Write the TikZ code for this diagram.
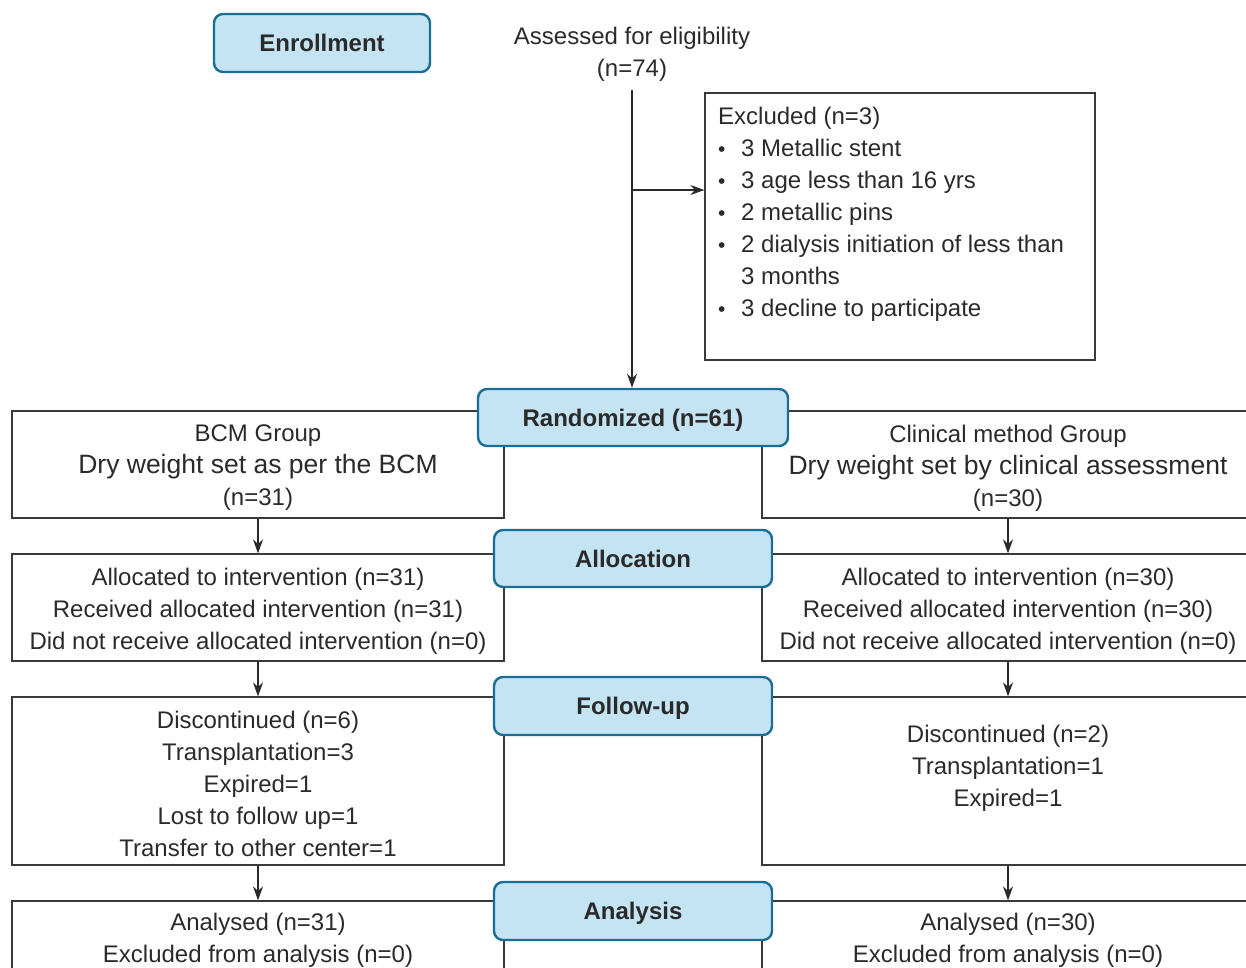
\documentclass[tikz,border=0pt]{standalone}
\usepackage{fontspec}
\setmainfont{Liberation Sans}
\usetikzlibrary{arrows.meta}
\definecolor{txt}{HTML}{2A2A2A}
\definecolor{bfill}{HTML}{C4E3F3}
\definecolor{bdraw}{HTML}{1A6E96}
\definecolor{lin}{HTML}{3A3A3A}
\begin{document}
\begin{tikzpicture}[x=1pt,y=-1pt,
 stage/.style={draw=bdraw, fill=bfill, line width=2.4pt, rounded corners=9pt,
   font=\bfseries\fontsize{24}{28}\selectfont, text=txt, inner sep=0pt,
   text height=17pt, text depth=0pt},
 box/.style={draw=lin, line width=1.2pt, inner sep=0pt},
 txtn/.style={text=txt, font=\fontsize{24}{32}\selectfont, align=center, inner sep=0pt},
 arr/.style={draw=txt, line width=1.8pt, -{Stealth[length=14pt,width=10pt]}}]
\useasboundingbox (0,0) rectangle (1246,967);
\clip (0,0) rectangle (1246,967);
\newcommand{\bigln}{\fontsize{26.5}{32}\selectfont}
\newcommand{\blt}{\makebox[23pt][l]{\fontsize{21}{21}\selectfont\textbullet}}

% boxes
\node[box, minimum width=390pt, minimum height=267pt] (excl) at (900,226.5) {};
\node[box, minimum width=492pt, minimum height=107pt] (bcm) at (258,464.5) {};
\node[box, minimum width=492pt, minimum height=107pt] (clin) at (1008,464.5) {};
\node[box, minimum width=492pt, minimum height=107pt] (allocL) at (258,607.5) {};
\node[box, minimum width=492pt, minimum height=107pt] (allocR) at (1008,607.5) {};
\node[box, minimum width=492pt, minimum height=168pt] (discL) at (258,781) {};
\node[box, minimum width=492pt, minimum height=168pt] (discR) at (1008,781) {};
\node[box, minimum width=492pt, minimum height=107pt] (anaL) at (258,954.5) {};
\node[box, minimum width=492pt, minimum height=107pt] (anaR) at (1008,954.5) {};

% stage boxes
\node[stage, minimum width=216pt, minimum height=58pt] (enr) at (322,43) {Enrollment};
\node[stage, minimum width=310pt, minimum height=57pt] (rand) at (633,417.5) {Randomized (n=61)};
\node[stage, minimum width=278pt, minimum height=57pt] (alloc) at (633,558.5) {Allocation};
\node[stage, minimum width=278pt, minimum height=58pt] (fu) at (633,706) {Follow-up};
\node[stage, minimum width=278pt, minimum height=58pt] (ana) at (633,911) {Analysis};

% texts
\node[txtn] (assess) at (632,54) {Assessed for eligibility\\(n=74)};
\node[txtn, anchor=north west, align=left] (excltxt) at (718,102) {%
\begin{tabular}{@{}l@{}l@{}}
\multicolumn{2}{@{}l@{}}{Excluded (n=3)}\\
\blt & 3 Metallic stent\\
\blt & 3 age less than 16 yrs\\
\blt & 2 metallic pins\\
\blt & 2 dialysis initiation of less than\\
 & 3 months\\
\blt & 3 decline to participate
\end{tabular}};
\node[txtn] (bcmtxt) at (258,468) {BCM Group\\{\bigln Dry weight set as per the BCM}\\(n=31)};
\node[txtn] (clintxt) at (1008,468) {Clinical method Group\\{\bigln Dry weight set by clinical assessment}\\(n=30)};
\node[txtn] (allocLtxt) at (258,611) {Allocated to intervention (n=31)\\Received allocated intervention (n=31)\\Did not receive allocated intervention (n=0)};
\node[txtn] (allocRtxt) at (1008,611) {Allocated to intervention (n=30)\\Received allocated intervention (n=30)\\Did not receive allocated intervention (n=0)};
\node[txtn] (discLtxt) at (258,784) {Discontinued (n=6)\\Transplantation=3\\Expired=1\\Lost to follow up=1\\Transfer to other center=1};
\node[txtn] (discRtxt) at (1008,768) {Discontinued (n=2)\\Transplantation=1\\Expired=1};
\node[txtn] (anaLtxt) at (258,940) {Analysed (n=31)\\Excluded from analysis (n=0)};
\node[txtn] (anaRtxt) at (1008,940) {Analysed (n=30)\\Excluded from analysis (n=0)};

% connectors
\coordinate (top) at (632,90);
\coordinate (br) at (632,190);
\draw[arr] (top) -- (top |- rand.north);
\draw[arr] (br) -- (br -| excl.west);
\draw[arr] (bcm.south) -- (allocL.north);
\draw[arr] (clin.south) -- (allocR.north);
\draw[arr] (allocL.south) -- (discL.north);
\draw[arr] (allocR.south) -- (discR.north);
\draw[arr] (discL.south) -- (anaL.north);
\draw[arr] (discR.south) -- (anaR.north);
\end{tikzpicture}
\end{document}
